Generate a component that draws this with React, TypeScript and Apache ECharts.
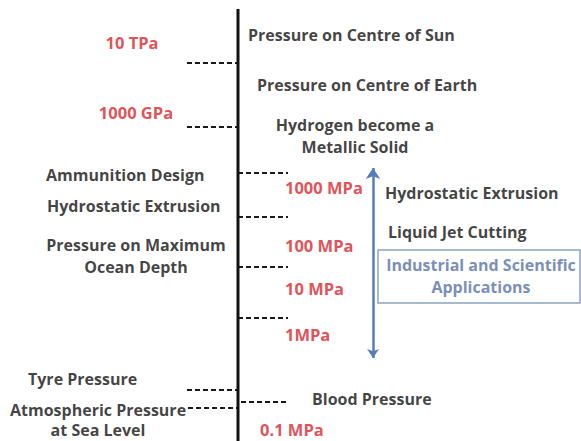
import React, { useEffect, useRef } from "react";
import * as echarts from "echarts";

// Pressure scale labels (red), their layout positions on the diagram grid
const scaleLabels = ["10 TPa", "1000 GPa", "1000 MPa", "100 MPa", "10 MPa", "1MPa", "0.1 MPa"];
const scaleX = [132, 136, 285, 285, 285, 285, 260];
const scaleY = [42, 112, 187, 245, 288, 334, 429];
const scaleAlign = ["center", "center", "left", "left", "left", "left", "left"];

// Application labels (dark)
const appLabels = [
  "Pressure on Centre of Sun",
  "Pressure on Centre of Earth",
  "Hydrogen become a\nMetallic Solid",
  "Ammunition Design",
  "Hydrostatic Extrusion",
  "Pressure on Maximum\nOcean Depth",
  "Hydrostatic Extrusion",
  "Liquid Jet Cutting",
  "Tyre Pressure",
  "Atmospheric Pressure",
  "at Sea Level",
  "Blood Pressure",
];
const appX = [248, 257, 355, 46, 47, 136, 385, 388, 28, 10, 98, 312];
const appY = [35, 85, 136, 175, 206, 256, 193, 232, 379, 410, 430, 399];
const appAlign = ["left", "left", "center", "left", "left", "center", "left", "left", "left", "left", "center", "left"];

// Category box label (blue)
const boxLabel = "Industrial and Scientific\nApplications";
const boxCenter = [481, 276];
const boxCorners = [[378, 250], [580, 303]];

// Main vertical scale line
const axisLine = [[238, 9], [238, 441]];

// Dashed decade marks: [x1, x2, y]
const tickX1 = [187, 187, 238, 238, 238, 238, 187, 188, 241];
const tickX2 = [238, 238, 288, 288, 288, 288, 238, 238, 288];
const tickY = [63, 127, 173, 217, 267, 318, 390, 408, 402];

// Application range arrow
const arrowX = 373;
const arrowY = [168, 358];

const FONT = "'Open Sans'";

export default function App() {
  const ref = useRef<HTMLDivElement>(null);
  useEffect(() => {
    if (!ref.current) return;
    const chart = echarts.init(ref.current, null, { renderer: "svg" });
    const textItem = (name: string, x: number, y: number, align: string, color: string, size: number) => ({
      name,
      value: [x, y],
      label: {
        show: true,
        position: "inside",
        formatter: "{b}",
        align,
        verticalAlign: "middle",
        color,
        fontFamily: FONT,
        fontWeight: "bold",
        fontSize: size,
        lineHeight: 22,
      },
    });
    const texts = [
      ...scaleLabels.map((t, i) => textItem(t, scaleX[i], scaleY[i], scaleAlign[i], "#d9232a", 16.5)),
      ...appLabels.map((t, i) => textItem(t, appX[i], appY[i], appAlign[i], "#111111", 16)),
      textItem(boxLabel, boxCenter[0], boxCenter[1], "center", "#5670a6", 16),
    ];
    chart.setOption({
      animation: false,
      backgroundColor: "#ffffff",
      grid: { left: 0, right: 0, top: 0, bottom: 0 },
      xAxis: { type: "value", min: 0, max: 581, show: false },
      yAxis: { type: "value", min: 0, max: 441, inverse: true, show: false },
      series: [
        {
          type: "line",
          data: axisLine,
          symbol: "none",
          lineStyle: { color: "#111", width: 3 },
          silent: true,
          markArea: {
            silent: true,
            itemStyle: { color: "rgba(0,0,0,0)", borderColor: "#8fa2c4", borderWidth: 1.5 },
            data: [[{ coord: boxCorners[0] }, { coord: boxCorners[1] }]],
          },
        },
        {
          type: "lines",
          coordinateSystem: "cartesian2d",
          silent: true,
          lineStyle: { color: "#1a1a1a", width: 2, type: [5, 3], opacity: 1 },
          data: tickY.map((y, i) => ({ coords: [[tickX1[i], y], [tickX2[i], y]] })),
        },
        {
          type: "lines",
          coordinateSystem: "cartesian2d",
          silent: true,
          symbol: ["arrow", "arrow"],
          symbolSize: [9, 11],
          lineStyle: { color: "#5a7cb8", width: 2.5, opacity: 1 },
          data: [{ coords: [[arrowX, arrowY[1]], [arrowX, arrowY[0]]] }],
        },
        {
          type: "scatter",
          symbolSize: 0,
          silent: true,
          data: texts,
        },
      ],
    });
    return () => chart.dispose();
  }, []);
  return (
    <div
      ref={ref}
      style={{ position: "fixed", left: 0, top: 0, width: 581, height: 441, background: "#fff" }}
    />
  );
}
